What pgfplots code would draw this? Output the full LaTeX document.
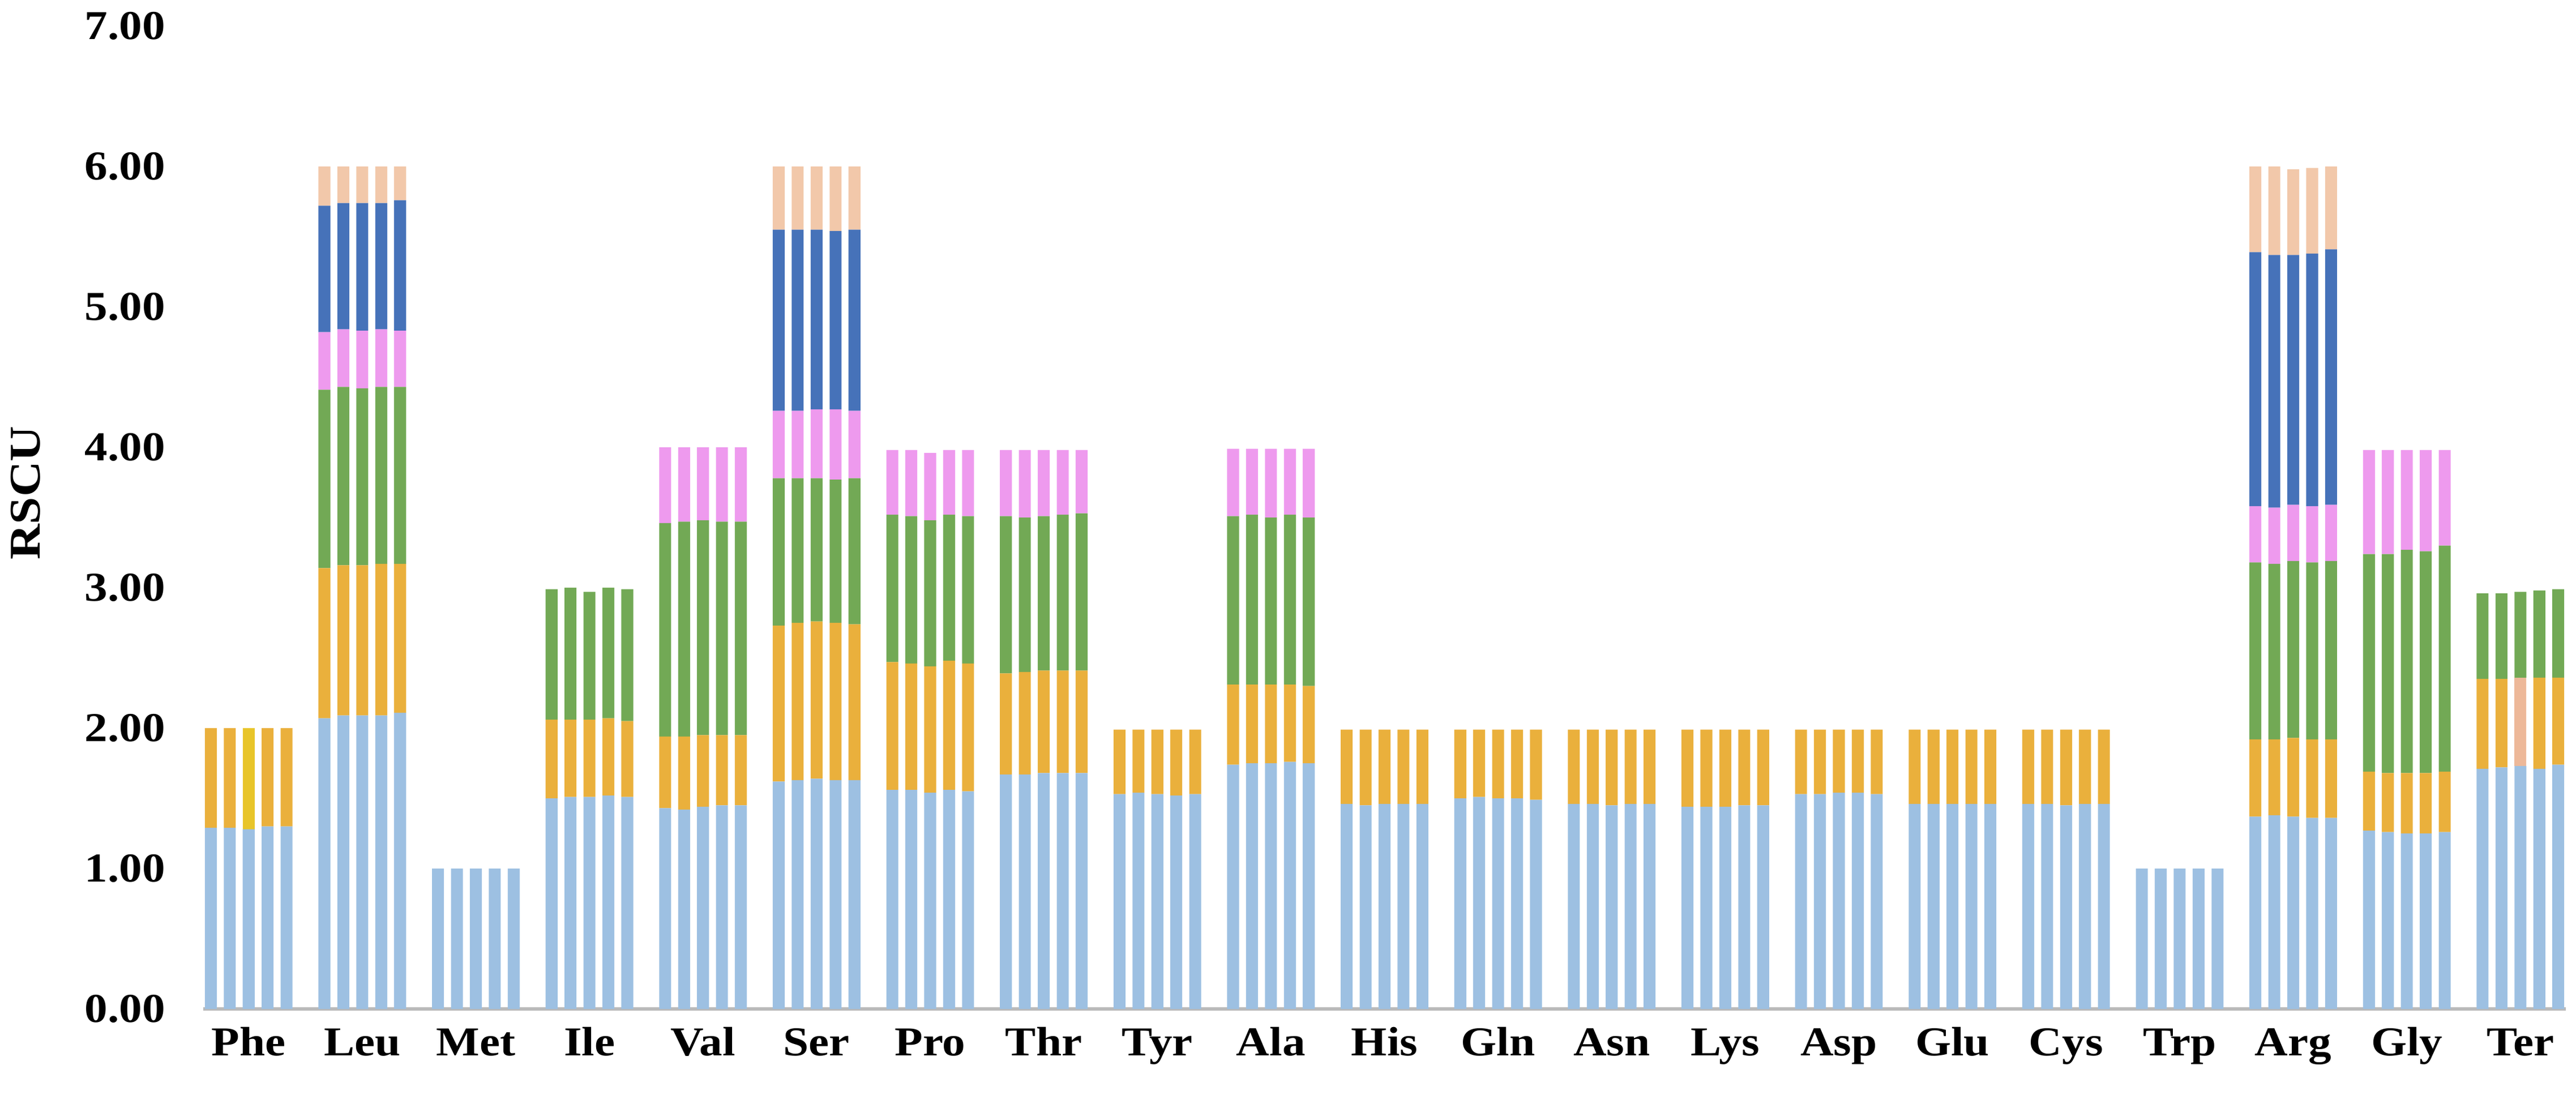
\documentclass[border=0pt]{standalone}
\usepackage{fontspec}
\setmainfont{Liberation Serif}[FakeStretch=1.12]
\usepackage{pgfplots}
\usepackage{pgfplotstable}
\pgfplotsset{compat=1.18}
\definecolor{cLB}{HTML}{9DC0E2}
\definecolor{cOR}{HTML}{EAB03C}
\definecolor{cYE}{HTML}{E8C52A}
\definecolor{cPA}{HTML}{EDB899}
\definecolor{cGR}{HTML}{72A955}
\definecolor{cPK}{HTML}{EE9AEE}
\definecolor{cDB}{HTML}{4672B9}
\definecolor{cPE}{HTML}{F2C8AA}
\pgfplotstableread{
cat bar a b ya pa c d e f
0 0 1.29 0.71 0 0 0 0 0 0
0 1 1.29 0.71 0 0 0 0 0 0
0 2 1.28 0 0.72 0 0 0 0 0
0 3 1.30 0.70 0 0 0 0 0 0
0 4 1.30 0.70 0 0 0 0 0 0
1 0 2.07 1.07 0 0 1.27 0.41 0.90 0.28
1 1 2.09 1.07 0 0 1.27 0.41 0.90 0.26
1 2 2.09 1.07 0 0 1.26 0.41 0.91 0.26
1 3 2.09 1.08 0 0 1.26 0.41 0.90 0.26
1 4 2.11 1.06 0 0 1.26 0.40 0.93 0.24
2 0 1.00 0 0 0 0 0 0 0
2 1 1.00 0 0 0 0 0 0 0
2 2 1.00 0 0 0 0 0 0 0
2 3 1.00 0 0 0 0 0 0 0
2 4 1.00 0 0 0 0 0 0 0
3 0 1.50 0.56 0 0 0.93 0 0 0
3 1 1.51 0.55 0 0 0.94 0 0 0
3 2 1.51 0.55 0 0 0.91 0 0 0
3 3 1.52 0.55 0 0 0.93 0 0 0
3 4 1.51 0.54 0 0 0.94 0 0 0
4 0 1.43 0.51 0 0 1.52 0.54 0 0
4 1 1.42 0.52 0 0 1.53 0.53 0 0
4 2 1.44 0.51 0 0 1.53 0.52 0 0
4 3 1.45 0.50 0 0 1.52 0.53 0 0
4 4 1.45 0.50 0 0 1.52 0.53 0 0
5 0 1.62 1.11 0 0 1.05 0.48 1.29 0.45
5 1 1.63 1.12 0 0 1.03 0.48 1.29 0.45
5 2 1.64 1.12 0 0 1.02 0.49 1.28 0.45
5 3 1.63 1.12 0 0 1.02 0.50 1.27 0.46
5 4 1.63 1.11 0 0 1.04 0.48 1.29 0.45
6 0 1.56 0.91 0 0 1.05 0.46 0 0
6 1 1.56 0.90 0 0 1.05 0.47 0 0
6 2 1.54 0.90 0 0 1.04 0.48 0 0
6 3 1.56 0.92 0 0 1.04 0.46 0 0
6 4 1.55 0.91 0 0 1.05 0.47 0 0
7 0 1.67 0.72 0 0 1.12 0.47 0 0
7 1 1.67 0.73 0 0 1.10 0.48 0 0
7 2 1.68 0.73 0 0 1.10 0.47 0 0
7 3 1.68 0.73 0 0 1.11 0.46 0 0
7 4 1.68 0.73 0 0 1.12 0.45 0 0
8 0 1.53 0.46 0 0 0 0 0 0
8 1 1.54 0.45 0 0 0 0 0 0
8 2 1.53 0.46 0 0 0 0 0 0
8 3 1.52 0.47 0 0 0 0 0 0
8 4 1.53 0.46 0 0 0 0 0 0
9 0 1.74 0.57 0 0 1.20 0.48 0 0
9 1 1.75 0.56 0 0 1.21 0.47 0 0
9 2 1.75 0.56 0 0 1.19 0.49 0 0
9 3 1.76 0.55 0 0 1.21 0.47 0 0
9 4 1.75 0.55 0 0 1.20 0.49 0 0
10 0 1.46 0.53 0 0 0 0 0 0
10 1 1.45 0.54 0 0 0 0 0 0
10 2 1.46 0.53 0 0 0 0 0 0
10 3 1.46 0.53 0 0 0 0 0 0
10 4 1.46 0.53 0 0 0 0 0 0
11 0 1.50 0.49 0 0 0 0 0 0
11 1 1.51 0.48 0 0 0 0 0 0
11 2 1.50 0.49 0 0 0 0 0 0
11 3 1.50 0.49 0 0 0 0 0 0
11 4 1.49 0.50 0 0 0 0 0 0
12 0 1.46 0.53 0 0 0 0 0 0
12 1 1.46 0.53 0 0 0 0 0 0
12 2 1.45 0.54 0 0 0 0 0 0
12 3 1.46 0.53 0 0 0 0 0 0
12 4 1.46 0.53 0 0 0 0 0 0
13 0 1.44 0.55 0 0 0 0 0 0
13 1 1.44 0.55 0 0 0 0 0 0
13 2 1.44 0.55 0 0 0 0 0 0
13 3 1.45 0.54 0 0 0 0 0 0
13 4 1.45 0.54 0 0 0 0 0 0
14 0 1.53 0.46 0 0 0 0 0 0
14 1 1.53 0.46 0 0 0 0 0 0
14 2 1.54 0.45 0 0 0 0 0 0
14 3 1.54 0.45 0 0 0 0 0 0
14 4 1.53 0.46 0 0 0 0 0 0
15 0 1.46 0.53 0 0 0 0 0 0
15 1 1.46 0.53 0 0 0 0 0 0
15 2 1.46 0.53 0 0 0 0 0 0
15 3 1.46 0.53 0 0 0 0 0 0
15 4 1.46 0.53 0 0 0 0 0 0
16 0 1.46 0.53 0 0 0 0 0 0
16 1 1.46 0.53 0 0 0 0 0 0
16 2 1.45 0.54 0 0 0 0 0 0
16 3 1.46 0.53 0 0 0 0 0 0
16 4 1.46 0.53 0 0 0 0 0 0
17 0 1.00 0 0 0 0 0 0 0
17 1 1.00 0 0 0 0 0 0 0
17 2 1.00 0 0 0 0 0 0 0
17 3 1.00 0 0 0 0 0 0 0
17 4 1.00 0 0 0 0 0 0 0
18 0 1.37 0.55 0 0 1.26 0.40 1.81 0.61
18 1 1.38 0.54 0 0 1.25 0.40 1.80 0.63
18 2 1.37 0.56 0 0 1.26 0.40 1.78 0.61
18 3 1.36 0.56 0 0 1.26 0.40 1.80 0.61
18 4 1.36 0.56 0 0 1.27 0.40 1.82 0.59
19 0 1.27 0.42 0 0 1.55 0.74 0 0
19 1 1.26 0.42 0 0 1.56 0.74 0 0
19 2 1.25 0.43 0 0 1.59 0.71 0 0
19 3 1.25 0.43 0 0 1.58 0.72 0 0
19 4 1.26 0.43 0 0 1.61 0.68 0 0
20 0 1.71 0.64 0 0 0.61 0 0 0
20 1 1.72 0.63 0 0 0.61 0 0 0
20 2 1.73 0 0 0.63 0.61 0 0 0
20 3 1.71 0.65 0 0 0.62 0 0 0
20 4 1.74 0.62 0 0 0.63 0 0 0
}\rscu
\begin{document}
\begin{tikzpicture}
\begin{axis}[
  at={(0,0)}, anchor=south west,
  scale only axis, width=834.6pt, height=347.2pt,
  xmin=-0.4, xmax=20.4, ymin=0, ymax=7,
  ybar stacked, bar width=0.105,
  axis x line*=bottom, axis y line*=left,
  x axis line style={draw=black!27, line width=1.2pt},
  y axis line style={draw=none},
  major tick length=0pt,
  xtick={0,...,20},
  xticklabels={Phe,Leu,Met,Ile,Val,Ser,Pro,Thr,Tyr,Ala,His,Gln,Asn,Lys,Asp,Glu,Cys,Trp,Arg,Gly,Ter},
  ytick={0,1,2,3,4,5,6,7},
  /pgf/number format/assume math mode=true,
  yticklabel style={/pgf/number format/fixed, /pgf/number format/fixed zerofill, /pgf/number format/precision=2,
    anchor=east, inner sep=0pt, xshift=-13.2pt, font=\fontsize{14.5}{17}\selectfont\bfseries},
  xticklabel style={anchor=base, inner sep=0pt, yshift=-16.4pt, font=\fontsize{14.5}{17}\selectfont\bfseries},
  ylabel={RSCU},
  ylabel style={at={(axis description cs:-0.0752,0.525)}, anchor=center, font=\fontsize{15.5}{18}\selectfont\bfseries},
  axis on top=false,
]
\addplot[fill=cLB, draw=none] table[x expr=\thisrow{cat}+(\thisrow{bar}-2)/6, y=a]{\rscu};
\addplot[fill=cOR, draw=none] table[x expr=\thisrow{cat}+(\thisrow{bar}-2)/6, y=b]{\rscu};
\addplot[fill=cYE, draw=none] table[x expr=\thisrow{cat}+(\thisrow{bar}-2)/6, y=ya]{\rscu};
\addplot[fill=cPA, draw=none] table[x expr=\thisrow{cat}+(\thisrow{bar}-2)/6, y=pa]{\rscu};
\addplot[fill=cGR, draw=none] table[x expr=\thisrow{cat}+(\thisrow{bar}-2)/6, y=c]{\rscu};
\addplot[fill=cPK, draw=none] table[x expr=\thisrow{cat}+(\thisrow{bar}-2)/6, y=d]{\rscu};
\addplot[fill=cDB, draw=none] table[x expr=\thisrow{cat}+(\thisrow{bar}-2)/6, y=e]{\rscu};
\addplot[fill=cPE, draw=none] table[x expr=\thisrow{cat}+(\thisrow{bar}-2)/6, y=f]{\rscu};
\end{axis}
\pgfresetboundingbox
\path[use as bounding box] (-71.8pt,-30.2pt) rectangle (838.2pt,356.4pt);
\end{tikzpicture}
\end{document}
